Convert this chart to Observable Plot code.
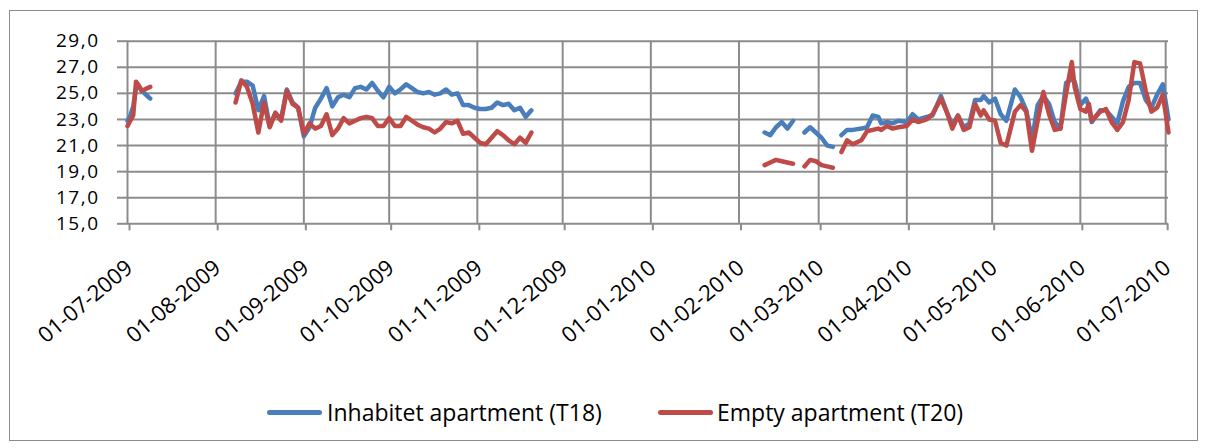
<!DOCTYPE html>
<html><head><meta charset="utf-8">
<script src="https://cdn.jsdelivr.net/npm/d3@7"></script>
<script src="https://cdn.jsdelivr.net/npm/@observablehq/plot@0.6"></script>
<style>
body{margin:0;background:#fff;}
#wrap{position:relative;width:1208px;height:448px;overflow:hidden;font-family:"Open Sans",sans-serif;background:#fff;}
#frame{position:absolute;left:9px;top:10px;width:1189px;height:431px;border:1.5px solid #8c8c8c;box-sizing:border-box;}
#chart{position:absolute;left:0;top:0;}
#chart g[aria-label="y-axis tick label"] text{letter-spacing:1.5px;}
.sw{position:absolute;height:5px;border-radius:3px;top:410px;width:55px;}
.lt{position:absolute;top:396px;height:32px;line-height:32px;font-size:23px;color:#000;white-space:nowrap;}
</style>
</head><body>
<div id="wrap">
  <div id="frame"></div>
  <div id="chart"></div>
  <div class="sw" id="sw1" style="left:267px;"></div>
  <div class="lt" id="lt1" style="left:327px;"></div>
  <div class="sw" id="sw2" style="left:658px;"></div>
  <div class="lt" id="lt2" style="left:717px;"></div>
</div>
<script>
const seriesNames = ["Inhabitet apartment (T18)", "Empty apartment (T20)"];
const seriesColors = ["#4A7EBB", "#BE4B48"];
const yTicks = [15, 17, 19, 21, 23, 25, 27, 29];
const xTicks = ["2009-07-01","2009-08-01","2009-09-01","2009-10-01","2009-11-01","2009-12-01","2010-01-01","2010-02-01","2010-03-01","2010-04-01","2010-05-01","2010-06-01","2010-07-01"];

const dates = [
 "2009-07-01","2009-07-02","2009-07-03","2009-07-04","2009-07-05","2009-07-06","2009-07-07","2009-07-08","2009-07-09",
 "2009-07-24",
 "2009-08-08","2009-08-10","2009-08-12","2009-08-14","2009-08-16","2009-08-18","2009-08-20","2009-08-22","2009-08-24","2009-08-26","2009-08-28","2009-08-30",
 "2009-09-01","2009-09-03","2009-09-05","2009-09-07","2009-09-09","2009-09-11","2009-09-13","2009-09-15","2009-09-17","2009-09-19","2009-09-21","2009-09-23","2009-09-25","2009-09-27","2009-09-29",
 "2009-10-01","2009-10-03","2009-10-05","2009-10-07","2009-10-09","2009-10-11","2009-10-13","2009-10-15","2009-10-17","2009-10-19","2009-10-21","2009-10-23","2009-10-25","2009-10-27","2009-10-29","2009-10-31",
 "2009-11-02","2009-11-04","2009-11-06","2009-11-08","2009-11-10","2009-11-12","2009-11-14","2009-11-16","2009-11-18","2009-11-20",
 "2010-01-01",
 "2010-02-10","2010-02-12","2010-02-14","2010-02-16","2010-02-18","2010-02-20",
 "2010-02-22",
 "2010-02-24","2010-02-26","2010-02-28","2010-03-02","2010-03-04","2010-03-06",
 "2010-03-08",
 "2010-03-09","2010-03-11","2010-03-13","2010-03-16","2010-03-18","2010-03-20","2010-03-22","2010-03-23","2010-03-25","2010-03-27","2010-03-29",
 "2010-04-01","2010-04-03","2010-04-05","2010-04-08","2010-04-10","2010-04-13","2010-04-15","2010-04-17","2010-04-19","2010-04-21","2010-04-23","2010-04-25","2010-04-27","2010-04-28","2010-04-30",
 "2010-05-02","2010-05-04","2010-05-06","2010-05-09","2010-05-11","2010-05-13","2010-05-15","2010-05-17","2010-05-19","2010-05-21","2010-05-23","2010-05-25","2010-05-27","2010-05-29","2010-05-30",
 "2010-06-01","2010-06-03","2010-06-04","2010-06-05","2010-06-08","2010-06-10","2010-06-12","2010-06-14","2010-06-16","2010-06-18","2010-06-20","2010-06-22","2010-06-24","2010-06-26","2010-06-28","2010-06-30",
 "2010-07-02"
];

const inhabited = [
 22.9, 23.3, 24.0, 25.4, 25.5, 25.2, 25.0, 24.8, 24.6,
 null,
 25.0, 25.9, 25.9, 25.6, 23.7, 24.8, 22.5, 23.5, 23.0, 25.3, 24.3, 23.9,
 21.7, 22.4, 23.9, 24.6, 25.4, 24.0, 24.7, 24.9, 24.7, 25.4, 25.5, 25.3, 25.8, 25.2, 24.7,
 25.5, 25.0, 25.3, 25.7, 25.4, 25.1, 25.0, 25.1, 24.9, 25.0, 25.3, 24.9, 25.0, 24.1, 24.1, 23.9,
 23.8, 23.8, 23.9, 24.3, 24.1, 24.2, 23.7, 23.9, 23.2, 23.7,
 null,
 22.0, 21.8, 22.4, 22.8, 22.3, 22.9,
 null,
 22.0, 22.4, 22.0, 21.6, 21.0, 20.9,
 null,
 21.8, 22.2, 22.2, 22.3, 22.4, 23.3, 23.2, 22.7, 22.8, 22.7, 22.9,
 22.8, 23.4, 23.0, 23.2, 23.3, 24.8, 23.6, 22.6, 23.3, 22.4, 22.7, 24.5, 24.5, 24.8, 24.3,
 24.6, 23.4, 22.9, 25.3, 24.7, 23.7, 21.4, 24.1, 24.8, 24.2, 22.8, 22.3, 25.8, 26.1, 25.9,
 24.1, 24.6, 24.0, 22.8, 23.7, 23.7, 23.2, 22.7, 24.4, 25.5, 25.8, 25.8, 24.5, 23.9, 24.9, 25.7,
 23.0
];

const empty = [
 22.5, 22.9, 23.3, 25.9, 25.6, 25.2, 25.3, 25.4, 25.5,
 null,
 24.3, 26.0, 25.5, 24.2, 22.0, 24.3, 22.4, 23.5, 22.9, 25.2, 24.2, 23.9,
 21.9, 22.7, 22.3, 22.5, 23.4, 21.8, 22.3, 23.1, 22.7, 22.9, 23.1, 23.2, 23.1, 22.5, 22.5,
 23.1, 22.5, 22.5, 23.2, 22.9, 22.6, 22.4, 22.3, 22.0, 22.3, 22.8, 22.7, 22.9, 21.9, 22.0, 21.6,
 21.2, 21.1, 21.6, 22.1, 21.8, 21.4, 21.1, 21.6, 21.2, 22.0,
 null,
 19.5, 19.7, 19.9, 19.8, 19.7, 19.6,
 null,
 19.4, 19.9, 19.8, 19.5, 19.4, 19.3,
 null,
 20.5, 21.4, 21.1, 21.4, 22.1, 22.2, 22.3, 22.2, 22.5, 22.3, 22.4,
 22.5, 23.0, 22.8, 23.0, 23.4, 24.6, 23.6, 22.3, 23.3, 22.2, 22.4, 24.2, 23.3, 23.7, 23.0,
 22.9, 21.2, 21.0, 23.6, 24.1, 23.6, 20.6, 22.9, 25.1, 23.4, 22.2, 22.3, 25.0, 27.4, 25.5,
 23.8, 23.6, 24.2, 22.9, 23.6, 23.8, 22.8, 22.2, 22.8, 24.5, 27.4, 27.3, 25.2, 23.6, 23.9, 24.9,
 22.0
];

const parse = d3.utcParse("%Y-%m-%d");
const rowsA = dates.map((d, i) => ({date: parse(d), value: inhabited[i]}));
const rowsB = dates.map((d, i) => ({date: parse(d), value: empty[i]}));
const xTickDates = xTicks.map(parse);
const grid = "#8c8c8c";

const chart = Plot.plot({
  width: 1208,
  height: 340,
  marginLeft: 127,
  marginRight: 40,
  marginTop: 40.7,
  marginBottom: 116.7,
  style: {fontFamily: "'Open Sans', sans-serif", background: "transparent", overflow: "visible", color: "#000"},
  x: {type: "utc", domain: [parse("2009-07-01"), parse("2010-07-02")], label: null},
  y: {domain: [15, 29], label: null},
  marks: [
    Plot.ruleY(yTicks, {stroke: grid, strokeWidth: 2}),
    Plot.ruleX(xTickDates, {stroke: grid, strokeWidth: 2}),
    Plot.axisY(yTicks, {tickSize: 10, tickPadding: 18, stroke: grid, strokeWidth: 2, fill: "#000", fontSize: 19,
      label: null, tickFormat: d => d.toFixed(1).replace(".", ",")}),
    Plot.axisX(xTickDates, {tickSize: 7, tickPadding: 34, tickRotate: -40, stroke: grid, strokeWidth: 2, fill: "#000", fontSize: 22,
      label: null, dx: 2, tickFormat: d3.utcFormat("%d-%m-%Y")}),
    Plot.line(rowsA, {x: "date", y: "value", stroke: seriesColors[0], strokeWidth: 4.5, strokeLinejoin: "round", strokeLinecap: "round"}),
    Plot.line(rowsB, {x: "date", y: "value", stroke: seriesColors[1], strokeWidth: 4.5, strokeLinejoin: "round", strokeLinecap: "round"})
  ]
});
document.getElementById("chart").appendChild(chart);
document.getElementById("sw1").style.background = seriesColors[0];
document.getElementById("sw2").style.background = seriesColors[1];
document.getElementById("lt1").textContent = seriesNames[0];
document.getElementById("lt2").textContent = seriesNames[1];
</script>
</body></html>
